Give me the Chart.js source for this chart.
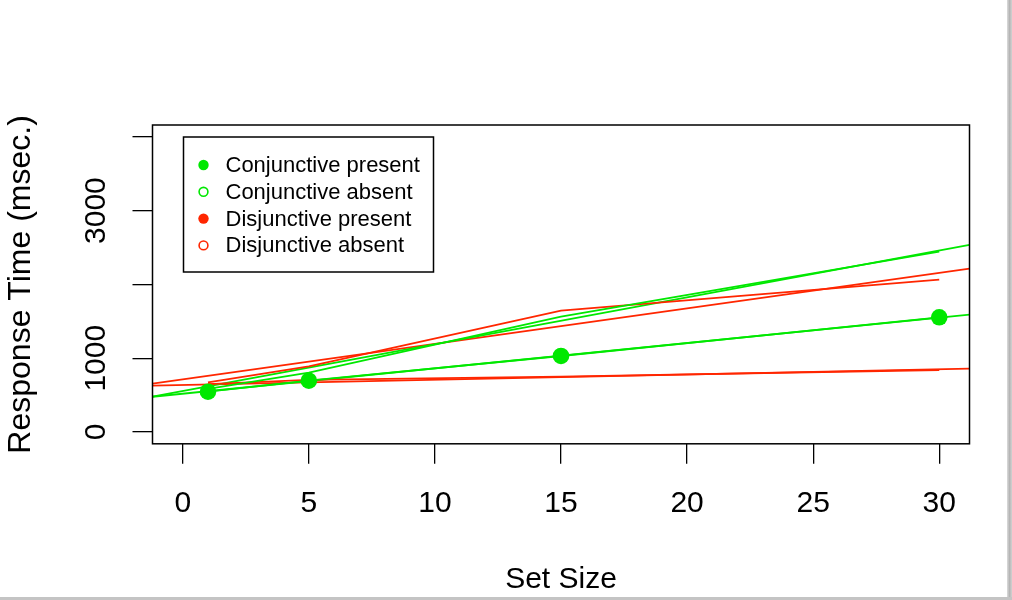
<!DOCTYPE html>
<html>
<head>
<meta charset="utf-8">
<script src="https://cdn.jsdelivr.net/npm/chart.js@4.4.1/dist/chart.umd.min.js"></script>
<style>
  body { margin: 0; background: #fff; }
  #wrap { position: relative; width: 1012px; height: 600px; overflow: hidden; background: #fff; }
  #plot { position: absolute; left: 0; top: 0; }
  .edgeR { position: absolute; left: 1007px; top: 0; width: 5px; height: 600px;
           background: linear-gradient(to right, #dcdcdc, #b5b5b5, #d2d2d2); }
  .edgeB { position: absolute; left: 0; top: 597px; width: 1012px; height: 3px; background: #c4c4c4; }
</style>
</head>
<body>
<div id="wrap">
  <canvas id="plot" width="1012" height="600"></canvas>
  <div class="edgeR"></div>
  <div class="edgeB"></div>
</div>
<script>
// values (ms)
const setSizes = [1, 5, 15, 30];
const conjPresent = [546, 695, 1030, 1554];
const conjAbsent = [583, 803, 1562, 2443];
const disjPresent = [650, 705, 749, 840];
const disjAbsent = [673, 890, 1644, 2064];

const seriesNames = ["Conjunctive present", "Conjunctive absent", "Disjunctive present", "Disjunctive absent"];
// fitted lines (abline) : intercept + slope * set size
const fitIntercept = [519, 554, 636, 712];
const fitSlope = [34.3, 63.5, 7.13, 48.1];

const xTicks = [0, 5, 10, 15, 20, 25, 30];
const yTicks = [0, 1000, 2000, 3000, 4000];
const yTickLabels = ["0", "1000", "", "3000", ""];
const xRange = [-1.2, 31.2];
const yRange = [-160, 4160];

const GREEN = "#00e800";
const RED = "#ff2600";
const FONT = "'Liberation Sans', Arial, Helvetica, sans-serif";
const seriesColors = [GREEN, GREEN, RED, RED];
const seriesFilled = [true, false, true, false];
const seriesValues = [conjPresent, conjAbsent, disjPresent, disjAbsent];

const datasets = [];
seriesValues.forEach((vals, i) => {
  datasets.push({
    label: seriesNames[i],
    data: setSizes.map((x, j) => ({ x: x, y: vals[j] })),
    borderColor: seriesColors[i],
    backgroundColor: seriesColors[i],
    borderWidth: 1.8,
    showLine: true,
    pointRadius: i === 0 ? 8.3 : 0,
    pointBorderWidth: 0,
  });
});
seriesValues.forEach((vals, i) => {
  datasets.push({
    label: seriesNames[i] + " fit",
    data: xRange.map((x) => ({ x: x, y: fitIntercept[i] + fitSlope[i] * x })),
    borderColor: seriesColors[i],
    borderWidth: 1.8,
    showLine: true,
    pointRadius: 0,
  });
});

// box, rotated y labels and the legend
const extras = {
  id: "extras",
  afterDatasetsDraw(chart) {
    const { ctx, chartArea: a, scales } = chart;
    ctx.save();
    ctx.strokeStyle = "#000";
    ctx.lineWidth = 1.5;
    ctx.strokeRect(a.left, a.top, a.right - a.left, a.bottom - a.top);

    // y tick labels, vertical like R
    ctx.fillStyle = "#000";
    ctx.font = "30px " + FONT;
    ctx.textAlign = "center";
    ctx.textBaseline = "middle";
    yTicks.forEach((v, i) => {
      if (!yTickLabels[i]) return;
      const y = scales.y.getPixelForValue(v);
      ctx.save();
      ctx.translate(97, y);
      ctx.rotate(-Math.PI / 2);
      ctx.fillText(yTickLabels[i], 0, 0);
      ctx.restore();
    });

    // legend
    const lx = a.left + 31, ly = a.top + 12;
    ctx.lineWidth = 1.5;
    ctx.strokeRect(lx, ly, 250, 135);
    ctx.font = "22px " + FONT;
    ctx.textAlign = "left";
    seriesNames.forEach((name, i) => {
      const cy = ly + 28 + i * 26.8;
      ctx.beginPath();
      if (seriesFilled[i]) {
        ctx.arc(lx + 20, cy, 5.2, 0, Math.PI * 2);
        ctx.fillStyle = seriesColors[i];
        ctx.fill();
      } else {
        ctx.arc(lx + 20, cy, 4.4, 0, Math.PI * 2);
        ctx.strokeStyle = seriesColors[i];
        ctx.lineWidth = 1.6;
        ctx.stroke();
      }
      ctx.fillStyle = "#000";
      ctx.fillText(name, lx + 42, cy + 1);
    });
    ctx.restore();
  },
};

new Chart(document.getElementById("plot"), {
  type: "scatter",
  data: { datasets: datasets },
  options: {
    responsive: false,
    animation: false,
    layout: { padding: { top: 125, right: 42.5, left: 0, bottom: 0 } },
    plugins: { legend: { display: false }, tooltip: { enabled: false } },
    scales: {
      x: {
        type: "linear",
        min: xRange[0],
        max: xRange[1],
        afterBuildTicks: (s) => { s.ticks = xTicks.map((v) => ({ value: v })); },
        afterFit: (s) => { s.height = 156.2; },
        grid: { drawOnChartArea: false, drawTicks: true, tickLength: 20, color: "#000", lineWidth: 1.3 },
        border: { display: false },
        ticks: { color: "#000", font: { family: FONT, size: 30 }, padding: 22, maxRotation: 0, autoSkip: false },
        title: { display: true, text: "Set Size", color: "#000", font: { family: FONT, size: 30 }, padding: { top: 0, bottom: 2 } },
      },
      y: {
        type: "linear",
        min: yRange[0],
        max: yRange[1],
        afterBuildTicks: (s) => { s.ticks = yTicks.map((v) => ({ value: v })); },
        afterFit: (s) => { s.width = 152.5; },
        grid: { drawOnChartArea: false, drawTicks: true, tickLength: 20, color: "#000", lineWidth: 1.3 },
        border: { display: false },
        ticks: { display: false },
        title: { display: true, text: "Response Time (msec.)", color: "#000", font: { family: FONT, size: 32 }, padding: { top: 2, bottom: 0 } },
      },
    },
  },
  plugins: [extras],
});
</script>
</body>
</html>
